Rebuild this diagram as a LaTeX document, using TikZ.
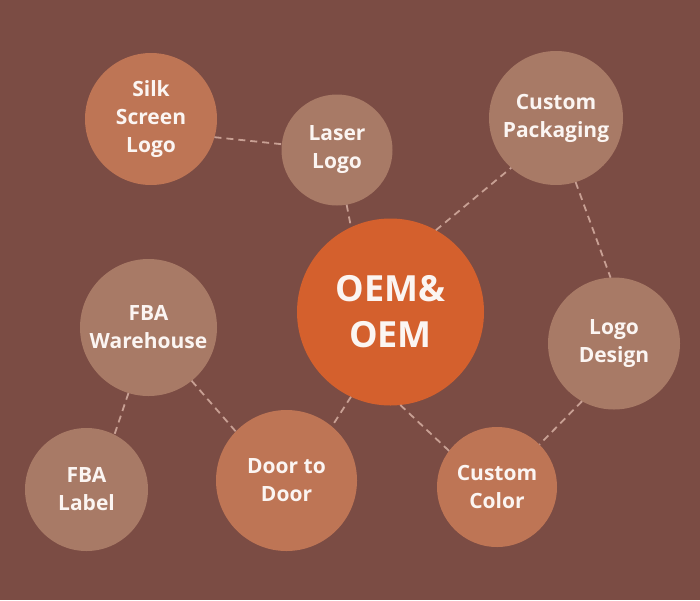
\documentclass[tikz,border=0pt]{standalone}
\usepackage{fontspec}
\setmainfont{Open Sans}
\definecolor{bgc}{HTML}{7B4C44}
\definecolor{orangec}{HTML}{BE7555}
\definecolor{tanc}{HTML}{A87A66}
\definecolor{oemc}{HTML}{D4602D}
\definecolor{dashc}{HTML}{C8A094}
\definecolor{txtc}{HTML}{FBF5F2}
\tikzset{
  bubble/.style={circle, inner sep=0pt, outer sep=0pt, text=txtc, align=center,
    font=\fontsize{21}{28}\selectfont\bfseries},
  orangeb/.style={bubble, fill=orangec},
  tanb/.style={bubble, fill=tanc},
  link/.style={draw=dashc, line width=1.8pt, dash pattern=on 7pt off 5pt}
}
\begin{document}
\begin{tikzpicture}[x=1pt,y=-1pt]
\fill[bgc] (0,0) rectangle (700,600);
\useasboundingbox (0,0) rectangle (700,600);
\node[orangeb, minimum size=132pt] (silk) at (151,119) {Silk\\Screen\\Logo};
\node[tanb, minimum size=111pt] (laser) at (337,150) {Laser\\Logo};
\node[tanb, minimum size=134pt] (pack) at (556,118) {Custom\\Packaging};
\node[bubble, fill=oemc, minimum size=187pt, font=\fontsize{36}{46}\selectfont\bfseries] (oem) at (390.5,312) {OEM\&\\OEM};
\node[tanb, minimum size=137pt] (fbaw) at (148.5,327.5) {FBA\\Warehouse};
\node[tanb, minimum size=132pt] (logo) at (614,343.5) {Logo\\Design};
\node[tanb, minimum size=123pt] (fbal) at (86.5,489.5) {FBA\\Label};
\node[orangeb, minimum size=141pt] (door) at (286.5,480.5) {Door to\\Door};
\node[orangeb, minimum size=120pt] (color) at (497,487) {Custom\\Color};
\draw[link] (silk.-16) -- (laser.174);
\draw[link] (laser.-80) -- (oem.115);
\draw[link] (oem.61) -- (pack.-132);
\draw[link] (pack.-73) -- (logo.93);
\draw[link] (logo.-119) -- (color.45);
\draw[link] (oem.-84) -- (color.143);
\draw[link] (oem.-115) -- (door.50);
\draw[link] (fbaw.-51) -- (door.136);
\draw[link] (fbaw.-107) -- (fbal.63);
\end{tikzpicture}
\end{document}
